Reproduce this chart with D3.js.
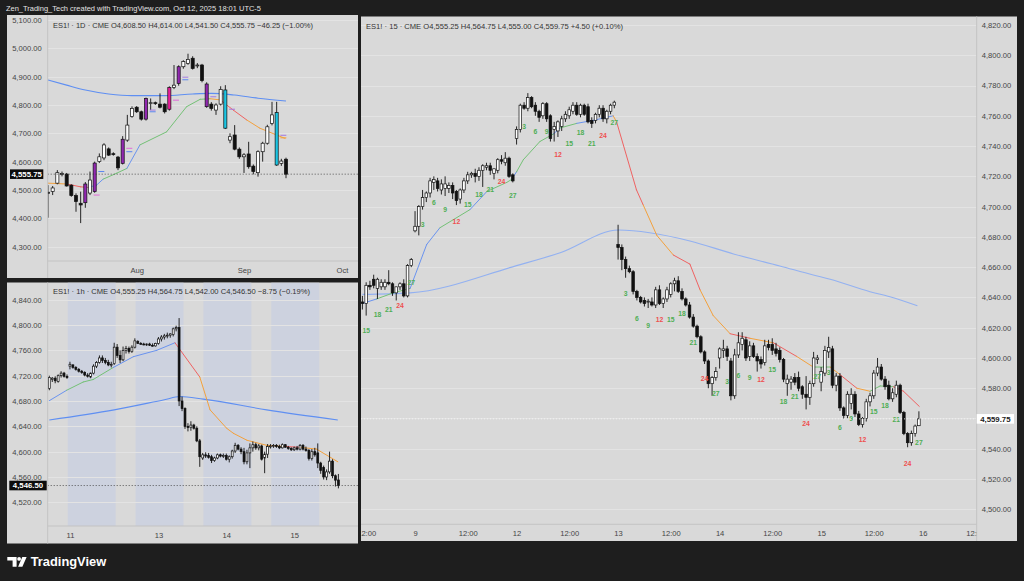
<!DOCTYPE html>
<html><head><meta charset="utf-8">
<script src="https://cdn.jsdelivr.net/npm/d3@7"></script>
<style>body{margin:0;background:#1e1e1e;}svg{display:block}</style>
</head><body>
<svg id="c" width="1024" height="581"></svg>
<script>
// ---------------- DATA ----------------
const headerText = "Zen_Trading_Tech created with TradingView.com, Oct 12, 2025 18:01 UTC-5";
const dailyLegend = "ES1! · 1D · CME  O4,608.50  H4,614.00  L4,541.50  C4,555.75  −46.25 (−1.00%)";
const hourlyLegend = "ES1! · 1h · CME  O4,555.25  H4,564.75  L4,542.00  C4,546.50  −8.75 (−0.19%)";
const m15Legend = "ES1! · 15 · CME  O4,555.25  H4,564.75  L4,555.00  C4,559.75  +4.50 (+0.10%)";

// daily candles [open, high, low, close]
const dailyOHLC = [
 [4492,4517,4402,4488],[4495,4514,4482,4507],[4524,4570,4520,4561],[4556,4565,4548,4558],
 [4556,4560,4512,4514],[4517,4520,4476,4480],[4480,4488,4423,4459],[4453,4494,4383,4447],
 [4455,4528,4437,4521],[4489,4565,4482,4535],[4494,4600,4490,4595],[4600,4629,4595,4617],
 [4613,4665,4605,4659],[4645,4650,4620,4623],[4628,4633,4621,4626],[4616,4620,4570,4578],
 [4594,4690,4590,4679],[4676,4765,4670,4729],[4759,4795,4755,4788],[4792,4796,4772,4776],
 [4776,4780,4745,4750],[4750,4826,4745,4823],[4805,4823,4782,4808],[4808,4812,4800,4805],
 [4803,4841,4788,4792],[4803,4806,4770,4776],[4785,4866,4780,4862],[4862,4941,4856,4870],
 [4876,4940,4868,4935],[4935,4958,4928,4953],[4947,4981,4942,4961],[4965,4972,4925,4929],
 [4940,4948,4930,4941],[4941,4945,4880,4886],[4874,4880,4790,4794],[4803,4810,4780,4788],
 [4782,4806,4765,4800],[4803,4866,4798,4855],[4853,4870,4715,4718],[4676,4700,4665,4688],
 [4694,4729,4640,4644],[4644,4650,4610,4617],[4617,4630,4560,4624],[4627,4670,4575,4582],
 [4584,4590,4555,4565],[4561,4640,4547,4635],[4635,4670,4600,4665],[4665,4730,4660,4723],
 [4735,4811,4728,4765],[4773,4811,4585,4588],[4594,4610,4585,4602],[4608.5,4614,4541.5,4555.75]
];
const dailyHighlight = [[8,"purple"],[10,"purple"],[16,"purple"],[21,"purple"],[26,"magenta"],[28,"purple"],[34,"purple"],[38,"cyan"],[49,"cyan"]];
const dailySlowMA = [[0,4888],[4,4870],[8,4853],[13,4839],[18,4833],[25,4833],[31,4839],[35,4841],[40,4835],[45,4824],[51,4814]];
const dailyFastMA = [[0,4524,"o"],[4,4521,"r"],[7,4511,"r"],[8.6,4509,"b"],[10.4,4517,"b"],[11.8,4538,"g"],[14.7,4559,"g"],[16.9,4576,"b"],[19.7,4659,"g"],[25.4,4705,"g"],[29.7,4794,"g"],[32.6,4820,"g"],[34.7,4822,"o"],[36.9,4818,"r"],[39.7,4782,"r"],[42.6,4747,"o"],[45.4,4718,"o"],[49,4694,"o"],[50.8,4682,"o"]];
const dailyMarkers = [[10,4482,"pink"],[11,4565,"blue"],[17,4647,"pink"],[17,4635,"blue"],[22,4782,"violet"],[22,4776,"blue"],[27,4817,"pink"],[29,4898,"violet"],[29,4889,"blue"],[35,4829,"violet"],[39,4785,"violet"],[50,4693,"violet"],[50,4684,"orange"]];
const dailyPriceTicks = [4300,4400,4500,4600,4700,4800,4900,5000,5100];
const dailyTimeLabels = ["Aug","Sep","Oct"];
const dailyTimePos = [19,42,63];
const dailyLast = 4555.75;

// hourly candles
const hourlyOHLC = [
 [4700,4720,4697,4717],[4714,4718,4710,4716],[4716,4719,4708,4712],[4711,4722,4709,4720],[4720,4727,4717,4724],
 [4724,4726,4717,4719],[4719,4722,4715,4717],[4735,4742,4730,4738],[4737,4738,4731,4733],[4733,4735,4728,4730],
 [4730,4732,4725,4727],[4727,4729,4723,4725],[4725,4727,4719,4721],[4721,4724,4717,4719],[4718,4725,4716,4724],
 [4724,4738,4722,4735],[4735,4743,4732,4741],[4741,4752,4739,4748],[4748,4752,4740,4744],[4744,4748,4738,4741],
 [4741,4745,4735,4737],[4737,4742,4733,4738],[4739,4772,4737,4765],[4765,4770,4748,4752],[4752,4760,4740,4745],
 [4745,4766,4743,4760],[4760,4767,4755,4763],[4763,4766,4755,4758],[4758,4768,4756,4765],[4765,4779,4763,4775],
 [4774,4776,4770,4771],[4771,4773,4769,4770],[4770,4772,4768,4769],[4769,4771,4767,4770],[4770,4772,4767,4768],
 [4768,4771,4766,4767],[4767,4772,4766,4771],[4771,4781,4769,4778],[4778,4784,4774,4781],[4781,4786,4777,4783],
 [4783,4788,4779,4784],[4784,4787,4780,4786],[4785,4796,4782,4794],[4794,4799,4790,4796],[4796,4811,4672,4680],
 [4680,4687,4664,4668],[4668,4670,4636,4640],[4640,4645,4632,4638],[4638,4648,4633,4642],[4642,4644,4635,4637],
 [4637,4640,4615,4617],[4617,4620,4576,4592],[4590,4598,4587,4595],[4595,4599,4590,4593],[4594,4598,4589,4591],
 [4592,4595,4582,4586],[4586,4592,4584,4590],[4590,4597,4588,4595],[4595,4597,4591,4593],[4593,4597,4590,4594],
 [4594,4597,4586,4588],[4588,4594,4583,4592],[4592,4603,4589,4601],[4601,4614,4598,4610],[4610,4612,4602,4604],
 [4604,4607,4596,4600],[4600,4606,4580,4584],[4584,4603,4580,4598],[4598,4613,4574,4606],[4606,4616,4600,4611],
 [4611,4614,4603,4606],[4606,4612,4602,4609],[4609,4611,4586,4588],[4590,4600,4566,4596],[4596,4612,4590,4608],
 [4608,4612,4605,4609],[4609,4612,4606,4610],[4610,4612,4606,4608],[4608,4611,4604,4606],[4606,4613,4605,4611],
 [4611,4612,4606,4607],[4607,4609,4603,4605],[4605,4607,4601,4603],[4603,4608,4601,4606],[4606,4609,4602,4604],
 [4604,4612,4602,4610],[4610,4612,4602,4604],[4604,4608,4600,4602],[4602,4604,4586,4589],[4589,4604,4586,4600],
 [4600,4606,4592,4595],[4598,4613,4574,4582],[4582,4584,4565,4570],[4575,4578,4556,4560],[4560,4572,4555,4568],
 [4568,4600,4565,4585],[4585,4588,4558,4562],[4562,4564,4545,4555],[4555.25,4564.75,4542,4546.5]
];
const hourlySlowMA = [[0,4650],[22,4666],[39,4682],[44.3,4687],[52.2,4683],[73.7,4666],[97.8,4650]];
const hourlyFastMA = [[0,4680.5,"b"],[5.9,4697,"g"],[11.5,4710,"g"],[14.9,4714,"g"],[21.7,4733,"b"],[28.5,4750,"b"],[36.4,4760,"b"],[42.6,4772,"r"],[51,4718,"o"],[54.5,4666,"o"],[60.1,4637,"o"],[62.4,4629,"o"],[67,4618,"o"],[73.7,4610,"o"],[80.5,4608,"r"],[84.9,4607,"o"],[90.6,4604,"o"],[97.8,4584,"r"]];
const hourlySessionBands = [[6.25,22.5],[29.25,45.5],[52.25,68.5],[75.25,91.5]];
const hourlyPriceTicks = [4520,4560,4600,4640,4680,4720,4760,4800,4840];
const hourlyTimeLabels = ["11","13","14","15"];
const hourlyTimePos = [7,37,60,83];
const hourlyLast = 4546.5;

// 15-minute candles, one array per session
const m15Day8 = [
 [4637,4641,4632,4636],[4636,4650,4628,4648],[4648,4651,4645,4647],[4652,4655,4646,4648],[4646,4653,4639,4652],
 [4647,4652,4645,4650],[4647,4652,4645,4650],[4650,4658,4648,4649],[4649,4650,4641,4643],[4643,4647,4638,4647],
 [4647,4650,4645,4649],[4649,4652,4640,4641],[4641,4662,4640,4661],[4661,4666,4660,4665]
];
const m15Day9 = [
 [4684,4697,4683,4687],[4687,4701,4681,4700],[4700,4711,4698,4706],[4706,4710,4703,4709],[4709,4719,4706,4717],
 [4716,4720,4711,4718],[4717,4719,4710,4712],[4711,4718,4708,4715],[4712,4720,4707,4715],[4712,4716,4709,4714],
 [4714,4716,4705,4709],[4710,4711,4701,4704],[4705,4712,4702,4711],[4711,4719,4709,4717],[4717,4723,4715,4721],
 [4721,4723,4719,4722],[4722,4725,4716,4720],[4720,4726,4717,4724],[4724,4728,4713,4727],[4726,4729,4724,4727],
 [4727,4729,4721,4724],[4722,4725,4718,4725],[4724,4732,4722,4731],[4731,4734,4728,4730],[4729,4736,4727,4732],
 [4732,4733,4719,4720],[4721,4722,4716,4717]
];
const m15Day12 = [
 [4745,4753,4741,4751],[4751,4768,4749,4767],[4767,4769,4764,4765],[4765,4775,4763,4772],[4772,4773,4765,4766],
 [4767,4769,4760,4763],[4763,4764,4756,4759],[4760,4769,4758,4768],[4768,4769,4756,4758],[4760,4761,4743,4745],
 [4751,4756,4743,4753],[4750,4757,4746,4756],[4753,4760,4750,4758],[4758,4763,4756,4761],[4760,4766,4758,4764],
 [4763,4769,4761,4767],[4767,4769,4760,4761],[4761,4768,4759,4767],[4767,4768,4760,4761],[4766,4768,4755,4756],
 [4757,4759,4752,4755],[4757,4762,4755,4761],[4761,4767,4759,4765],[4765,4767,4756,4758],[4758,4764,4755,4763],
 [4763,4768,4761,4767],[4767,4770,4765,4769]
];
const m15Day13 = [
 [4675,4688,4665,4673],[4673,4675,4658,4665],[4665,4667,4653,4659],[4659,4661,4656,4657],[4657,4658,4642,4644],
 [4644,4645,4638,4640],[4640,4641,4636,4637],[4638,4640,4634,4636],[4637,4639,4633,4637.5],[4637,4640,4634,4635],
 [4635,4647,4633,4645],[4645,4648,4635,4636],[4636,4640,4633,4639],[4639,4647,4637,4645],[4642,4650,4640,4649],
 [4649,4653,4644,4651],[4651,4654,4643,4644],[4644,4646,4638,4639],[4639,4640,4634,4635],[4635,4637,4626,4627],
 [4627,4629,4620,4621],[4621,4622,4613,4614],[4614,4615,4603,4604],[4604,4605,4596,4598],[4598,4599,4580,4583],
 [4583,4588,4575,4587],[4587,4594,4585,4591]
];
const m15Day14 = [
 [4600,4607,4593,4606],[4605,4612,4600,4606],[4606,4608,4598,4601],[4598,4600,4572,4575],[4575,4606,4573,4602],
 [4602,4617,4600,4610],[4609,4617,4605,4613],[4612,4614,4598,4600],[4601,4611,4598,4608],[4608,4610,4600,4601],
 [4601,4603,4591,4598],[4599,4601,4593,4596],[4597,4612,4595,4608],[4609,4612,4605,4607],[4609,4613,4602,4605],
 [4606,4610,4601,4603],[4605,4607,4597,4599],[4599,4600,4584,4586],[4583,4589,4575,4586],[4584,4588,4579,4586],
 [4587,4590,4582,4584],[4587,4591,4578,4580],[4581,4582,4573,4576],[4576,4588,4566,4574],[4574,4585,4569,4583],
 [4583,4604,4581,4600],[4599,4602,4596,4600]
];
const m15Day15 = [
 [4584,4594,4578,4591],[4590,4608,4588,4605],[4604,4614,4600,4607],[4606,4608,4580,4582],[4582,4590,4578,4588],
 [4588,4590,4565,4567],[4567,4568,4560,4562],[4562,4578,4560,4576],[4570,4580,4566,4576],[4576,4578,4561,4563],
 [4563,4565,4555,4556],[4556,4561,4554,4560],[4560,4573,4558,4571],[4571,4577,4568,4575],[4575,4592,4573,4590],
 [4590,4600,4588,4594],[4594,4596,4585,4586],[4586,4588,4579,4581],[4582,4585,4572,4573],[4573,4580,4571,4577],
 [4576,4585,4574,4582],[4582,4583,4563,4564],[4564,4565,4549,4550],[4550,4551,4541,4544],[4544,4552,4542,4550],
 [4550,4556,4548,4555],[4555.25,4564.75,4555,4559.75]
];
const m15FirstBarOfDay8 = 14;
const m15Counts = [
 [8,15,4617.8,"g"],[8,18,4628.4,"g"],[8,21,4632.2,"g"],[8,24,4634.5,"r"],[8,27,4650,"g"],
 [9,3,4687.8,"g"],[9,6,4702.6,"g"],[9,9,4697.8,"g"],[9,12,4690,"r"],[9,15,4701.5,"g"],[9,18,4708.1,"g"],[9,21,4711,"g"],[9,24,4716.5,"r"],[9,27,4707.2,"g"],
 [12,3,4752.8,"g"],[12,6,4749.5,"g"],[12,9,4749.5,"g"],[12,12,4734.6,"r"],[12,15,4741.8,"g"],[12,18,4749.1,"g"],[12,21,4741.4,"g"],[12,24,4746.9,"r"],[12,27,4755.7,"g"],
 [13,3,4642.7,"g"],[13,6,4625.7,"g"],[13,9,4621.1,"g"],[13,12,4625.1,"r"],[13,15,4625.1,"g"],[13,18,4629,"g"],[13,21,4610.1,"g"],[13,24,4586.6,"r"],[13,27,4576.6,"g"],
 [14,3,4584.3,"g"],[14,6,4588.1,"g"],[14,9,4587.2,"g"],[14,12,4585.9,"r"],[14,15,4592,"g"],[14,18,4571.1,"g"],[14,21,4574.4,"g"],[14,24,4556.8,"r"],[14,27,4587.7,"g"],
 [15,3,4590.3,"g"],[15,6,4554,"g"],[15,9,4560.1,"g"],[15,12,4545.8,"r"],[15,15,4564.5,"g"],[15,18,4568.2,"g"],[15,21,4559.4,"g"],[15,24,4530.4,"r"],[15,27,4544.3,"g"]
];
const m15SlowMA = [[0,4642],[12.7,4643],[41,4661],[52.6,4669.5],[68.1,4684.5],[87.1,4677.3],[98.7,4668.7],[111,4660.8],[119.9,4654.8],[124.4,4652],[135,4643.8],[140.3,4640.5],[147.6,4634.5]];
const m15FastMA = [[0,4636,"b"],[3.8,4639,"g"],[8.2,4643,"g"],[12.7,4646,"b"],[17.1,4675,"b"],[20.6,4686,"g"],[28.6,4698,"b"],[33.1,4710,"g"],[38.4,4716,"g"],[39.7,4718,"b"],[41,4723,"g"],[42.8,4731,"g"],[47.2,4743,"g"],[50.8,4748,"b"],[52.6,4752,"g"],[57,4755,"b"],[61.4,4757,"b"],[66.7,4760,"o"],[67.6,4756,"r"],[72.9,4711,"r"],[74.7,4701,"o"],[78.3,4681,"o"],[82.7,4668,"r"],[87.1,4662,"r"],[89.8,4645,"o"],[93.3,4628,"o"],[97.8,4616,"r"],[103.1,4613,"o"],[109.3,4610,"r"],[115.5,4601,"o"],[119.9,4594,"g"],[124.4,4594,"o"],[127,4589,"r"],[131.5,4580,"o"],[135,4578,"g"],[137.7,4581.5,"g"],[141.2,4581,"r"],[143.9,4578,"r"],[148.1,4568,"o"]];
const m15PriceTicks = [4500,4520,4540,4560,4580,4600,4620,4640,4660,4680,4700,4720,4740,4760,4780,4800,4820];
const m15TimeLabels = ["12:00","9","12:00","12","12:00","13","12:00","14","12:00","15","12:00","16","12:00"];
const m15TimePos = [1,14,28,41,55,68,82,95,109,122,136,149,163];
const m15Last = 4559.75;

// ---------------- DRAWING ----------------
const FONT = "'Liberation Sans', Arial, sans-serif";
const PANEL = "#d9d9d9", GRID = "#e3e3e3", SEP = "#c3c3c3", TXT = "#454545";
const maCol = {g:"#74c176", b:"#6a93ef", r:"#ef6262", o:"#f3a13d"};
const hiCol = {purple:"#9128b0", magenta:"#ea1d9c", cyan:"#1cc6e4"};
const mkCol = {pink:"#e06ad8", blue:"#5a86f0", violet:"#a57be0", orange:"#f3a13d"};
const fmt = d3.format(",.2f");

const svg = d3.select("#c");
const defs = svg.append("defs");
function clip(id, x, y, w, h){ defs.append("clipPath").attr("id", id).append("rect").attr("x",x).attr("y",y).attr("width",w).attr("height",h); return "url(#"+id+")"; }

svg.append("rect").attr("width",1024).attr("height",581).attr("fill","#1e1e1e");
svg.append("text").attr("x",6).attr("y",11.3).text(headerText).attr("fill","#e4e4e4")
  .attr("font-family",FONT).attr("font-size",7.6).attr("textLength",255).attr("lengthAdjust","spacingAndGlyphs");

function candles(g, data, x, y, bw, fillOf){
  const c = g.append("g").selectAll("g").data(data).enter().append("g");
  c.append("line").attr("x1",(d,i)=>x(i)).attr("x2",(d,i)=>x(i)).attr("y1",d=>y(d[1])).attr("y2",d=>y(d[2]))
    .attr("stroke","#111").attr("stroke-width",0.9);
  c.append("rect").attr("x",(d,i)=>x(i)-bw/2).attr("width",bw)
    .attr("y",d=>y(Math.max(d[0],d[3]))).attr("height",d=>Math.max(0.9,Math.abs(y(d[0])-y(d[3]))))
    .attr("fill",(d,i)=>fillOf(d,i)).attr("stroke","#111").attr("stroke-width",0.7);
}
function fastLine(g, pts, x, y, w){
  const line = d3.line().x(p=>x(p[0])).y(p=>y(p[1]));
  for(let k=0;k<pts.length-1;k++){
    g.append("path").attr("d", line([pts[k],pts[k+1]])).attr("fill","none")
      .attr("stroke", maCol[pts[k][2]]).attr("stroke-width", w).attr("stroke-linecap","round");
  }
}
function slowLine(g, pts, x, y, color, w){
  g.append("path").attr("d", d3.line().x(p=>x(p[0])).y(p=>y(p[1])).curve(d3.curveMonotoneX)(pts))
    .attr("fill","none").attr("stroke",color).attr("stroke-width",w);
}
function styleAxis(ax){
  ax.select(".domain").remove();
  ax.selectAll("line").remove();
  ax.selectAll("text").attr("fill",TXT).attr("font-family",FONT).attr("font-size",7.6);
}
function grid(g, ticks, y, x0, x1){
  g.append("g").selectAll("line").data(ticks).enter().append("line")
    .attr("x1",x0).attr("x2",x1).attr("y1",d=>Math.round(y(d))+0.5).attr("y2",d=>Math.round(y(d))+0.5)
    .attr("stroke",GRID).attr("stroke-width",1);
}
function priceBox(g, x0, x1, yc, h, val, dark){
  g.append("rect").attr("x",x0).attr("y",yc-h/2).attr("width",x1-x0).attr("height",h)
    .attr("fill", dark ? "#0c0c0c" : "#ffffff");
  g.append("text").attr("x",(x0+x1)/2).attr("y",yc).attr("dy","0.35em").attr("text-anchor","middle")
    .attr("fill", dark ? "#ffffff" : "#222").attr("font-family",FONT).attr("font-size",7.8).attr("font-weight","bold").text(fmt(val));
}
function timeAxis(g, x, pos, labels, ay, clipId, cx0, cx1, cy1, ty){
  const wrap = g.append("g").attr("clip-path", clip(clipId, cx0, ay, cx1-cx0, cy1-ay));
  const xa = wrap.append("g").attr("transform",`translate(0,${ay})`)
    .call(d3.axisBottom(x).tickValues(pos).tickSize(0).tickFormat((d,i)=>labels[i]));
  styleAxis(xa); xa.selectAll("text").attr("y",ty).attr("dy",null);
}

// ======== Top-left: daily ========
(function(){
  const P = {x0:7,y0:15,x1:358,y1:278, ax:47.7, ay:261};
  const g = svg.append("g");
  g.append("rect").attr("x",P.x0).attr("y",P.y0).attr("width",P.x1-P.x0).attr("height",P.y1-P.y0).attr("fill",PANEL);
  const x = d3.scaleLinear().domain([0,51]).range([48,286]);
  const y = d3.scaleLinear().domain([4300,5100]).range([246.6,20.0]);
  const cp = clip("cTL", P.ax, P.y0, P.x1-P.ax, P.ay-P.y0);
  grid(g, dailyPriceTicks, y, P.ax, P.x1);
  const plot = g.append("g").attr("clip-path",cp);
  slowLine(plot, dailySlowMA, x, y, "#5f8ff2", 1.1);
  fastLine(plot, dailyFastMA, x, y, 1);
  const hi = new Map(dailyHighlight);
  candles(plot, dailyOHLC, x, y, 3.1, (d,i)=> hi.has(i) ? hiCol[hi.get(i)] : (d[3]>=d[0] ? "#ffffff" : "#111"));
  plot.append("g").selectAll("line").data(dailyMarkers).enter().append("line")
    .attr("x1",d=>x(d[0])-1).attr("x2",d=>x(d[0])+5).attr("y1",d=>y(d[1])).attr("y2",d=>y(d[1]))
    .attr("stroke",d=>mkCol[d[2]]).attr("stroke-width",1);
  plot.append("line").attr("x1",P.ax).attr("x2",P.x1).attr("y1",y(dailyLast)).attr("y2",y(dailyLast))
    .attr("stroke","#333").attr("stroke-width",0.8).attr("stroke-dasharray","1,2");
  g.append("line").attr("x1",P.ax).attr("x2",P.ax).attr("y1",P.y0).attr("y2",P.y1).attr("stroke",SEP);
  g.append("line").attr("x1",P.ax).attr("x2",P.x1).attr("y1",P.ay).attr("y2",P.ay).attr("stroke",SEP);
  const ya = g.append("g").attr("transform",`translate(${P.ax},0)`)
    .call(d3.axisLeft(y).tickValues(dailyPriceTicks).tickSize(0).tickPadding(6).tickFormat(fmt));
  styleAxis(ya);
  timeAxis(g, x, dailyTimePos, dailyTimeLabels, P.ay, "cTLx", P.ax, P.x1, P.y1, 12);
  g.append("text").attr("x",53).attr("y",28.3).text(dailyLegend).attr("fill","#333").attr("font-family",FONT)
    .attr("font-size",7.6).attr("textLength",260).attr("lengthAdjust","spacingAndGlyphs");
  priceBox(g, 10, 43.3, y(dailyLast), 9.6, dailyLast, true);
})();

// ======== Bottom-left: hourly ========
(function(){
  const P = {x0:7,y0:282.5,x1:358,y1:543.5, ax:47.7, ay:526};
  const g = svg.append("g");
  g.append("rect").attr("x",P.x0).attr("y",P.y0).attr("width",P.x1-P.x0).attr("height",P.y1-P.y0).attr("fill",PANEL);
  const x = d3.scaleLinear().domain([0,98]).range([49.3,338.4]);
  const y = d3.scaleLinear().domain([4520,4840]).range([502.3,299.7]);
  const cp = clip("cBL", P.ax, P.y0, P.x1-P.ax, P.ay-P.y0);
  const plot = g.append("g").attr("clip-path",cp);
  plot.append("g").selectAll("rect").data(hourlySessionBands).enter().append("rect")
    .attr("x",d=>x(d[0])).attr("width",d=>x(d[1])-x(d[0])).attr("y",P.y0).attr("height",P.ay-P.y0).attr("fill","#cdd2df");
  grid(plot, hourlyPriceTicks, y, P.ax, P.x1);
  slowLine(plot, hourlySlowMA, x, y, "#5f8ff2", 1.1);
  fastLine(plot, hourlyFastMA, x, y, 1);
  candles(plot, hourlyOHLC, x, y, 1.9, d => d[3]>=d[0] ? "#ffffff" : "#111");
  plot.append("line").attr("x1",P.ax).attr("x2",P.x1).attr("y1",y(hourlyLast)).attr("y2",y(hourlyLast))
    .attr("stroke","#333").attr("stroke-width",0.8).attr("stroke-dasharray","1,2");
  g.append("line").attr("x1",P.ax).attr("x2",P.ax).attr("y1",P.y0).attr("y2",P.y1).attr("stroke",SEP);
  g.append("line").attr("x1",P.ax).attr("x2",P.x1).attr("y1",P.ay).attr("y2",P.ay).attr("stroke",SEP);
  const ya = g.append("g").attr("transform",`translate(${P.ax},0)`)
    .call(d3.axisLeft(y).tickValues(hourlyPriceTicks).tickSize(0).tickPadding(6).tickFormat(fmt));
  styleAxis(ya);
  timeAxis(g, x, hourlyTimePos, hourlyTimeLabels, P.ay, "cBLx", P.ax, P.x1, P.y1, 11.8);
  g.append("text").attr("x",53).attr("y",294).text(hourlyLegend).attr("fill","#333").attr("font-family",FONT)
    .attr("font-size",7.6).attr("textLength",257).attr("lengthAdjust","spacingAndGlyphs");
  priceBox(g, 9.3, 46.7, y(hourlyLast), 9.6, hourlyLast, true);
})();

// ======== Right: 15 minute ========
(function(){
  const P = {x0:361,y0:16.5,x1:1017,y1:541, ax:976.7, ay:524.3};
  const g = svg.append("g");
  g.append("rect").attr("x",P.x0).attr("y",P.y0).attr("width",P.x1-P.x0).attr("height",P.y1-P.y0).attr("fill",PANEL);
  const data = [].concat(m15Day8, m15Day9, m15Day12, m15Day13, m15Day14, m15Day15);
  // index of bar n of a session = offset + n
  const dayOffset = {8: -m15FirstBarOfDay8};
  let off = m15Day8.length - 1;
  [[9,m15Day9],[12,m15Day12],[13,m15Day13],[14,m15Day14],[15,m15Day15]].forEach(([d,arr])=>{ dayOffset[d]=off; off+=arr.length; });
  const x = d3.scaleLinear().domain([0,148]).range([362.4,918.9]);
  const y = d3.scaleLinear().domain([4500,4820]).range([509.3,25]);
  const cp = clip("cR", P.x0, P.y0, P.ax-P.x0, P.ay-P.y0);
  grid(g, m15PriceTicks, y, P.x0, P.ax);
  const plot = g.append("g").attr("clip-path",cp);
  slowLine(plot, m15SlowMA, x, y, "#93b1f1", 1.1);
  fastLine(plot, m15FastMA, x, y, 1);
  candles(plot, data, x, y, 2.6, d => d[3]>=d[0] ? "#ffffff" : "#111");
  plot.append("g").selectAll("text").data(m15Counts).enter().append("text")
    .attr("x",d=>x(dayOffset[d[0]]+d[1])).attr("y",d=>y(d[2])).attr("dy","0.35em").attr("text-anchor","middle")
    .attr("fill",d=>d[3]==="g" ? "#4fae55" : "#ee5050").attr("font-family",FONT).attr("font-size",6.8).attr("font-weight","bold")
    .text(d=>d[1]);
  plot.append("line").attr("x1",P.x0).attr("x2",P.ax).attr("y1",y(m15Last)).attr("y2",y(m15Last))
    .attr("stroke","#f4f4f4").attr("stroke-width",0.9).attr("stroke-dasharray","1,2");
  g.append("line").attr("x1",P.ax).attr("x2",P.ax).attr("y1",P.y0).attr("y2",P.y1).attr("stroke",SEP);
  g.append("line").attr("x1",P.x0).attr("x2",P.ax).attr("y1",P.ay).attr("y2",P.ay).attr("stroke",SEP);
  const boxY = y(m15Last);
  const ticks = m15PriceTicks.filter(t => Math.abs(y(t)-boxY) > 8);
  const ya = g.append("g").attr("transform",`translate(${P.ax},0)`)
    .call(d3.axisRight(y).tickValues(ticks).tickSize(0).tickPadding(5).tickFormat(fmt));
  styleAxis(ya);
  timeAxis(g, x, m15TimePos, m15TimeLabels, P.ay, "cRx", P.x0, P.ax, P.y1, 11.4);
  g.append("text").attr("x",366).attr("y",28.7).text(m15Legend).attr("fill","#333").attr("font-family",FONT)
    .attr("font-size",7.6).attr("textLength",257).attr("lengthAdjust","spacingAndGlyphs");
  priceBox(g, 976.7, 1014, boxY, 9.6, m15Last, false);
})();

// ======== TradingView logo ========
(function(){
  const g = svg.append("g").attr("fill","#ffffff");
  g.append("path").attr("d","M7.3,557 H16.6 V566.7 H12.6 V560.6 H7.3 Z");
  g.append("circle").attr("cx",19.1).attr("cy",558.9).attr("r",1.9);
  g.append("path").attr("d","M22.3,557 H26.6 L22.4,566.7 H18.1 Z");
  g.append("text").attr("x",30.7).attr("y",566.3).text("TradingView").attr("font-family",FONT)
    .attr("font-size",12.4).attr("font-weight",600).attr("textLength",75.5).attr("lengthAdjust","spacingAndGlyphs");
})();
</script>
</body></html>
